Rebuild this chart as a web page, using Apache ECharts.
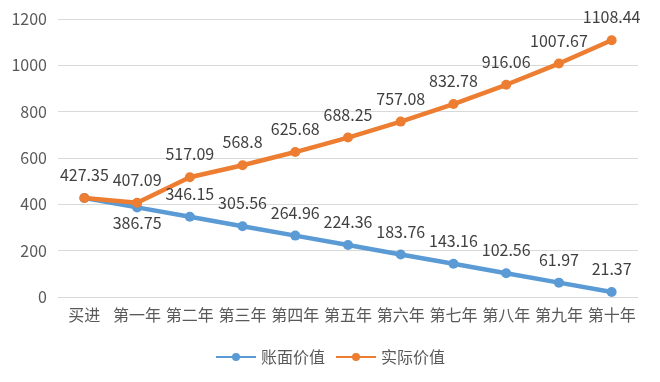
<!DOCTYPE html>
<html><head><meta charset="utf-8">
<script src="https://cdn.jsdelivr.net/npm/echarts@6/dist/echarts.min.js"></script>
<style>html,body{margin:0;padding:0;background:#fff}#c{width:660px;height:382px}</style>
</head><body><div id="c"></div>
<script>
var categories = ['买进','第一年','第二年','第三年','第四年','第五年','第六年','第七年','第八年','第九年','第十年'];
var bookValue = [427.35,386.75,346.15,305.56,264.96,224.36,183.76,143.16,102.56,61.97,21.37];
var actualValue = [427.35,407.09,517.09,568.8,625.68,688.25,757.08,832.78,916.06,1007.67,1108.44];
var yTicks = {min:0, max:1200, interval:200};
var font = '"Noto Sans CJK SC", "Microsoft YaHei", sans-serif';

var bookData = bookValue.map(function(v,i){
  if(i===0) return {value:v, label:{show:false}};
  if(i===1) return {value:v, label:{position:'bottom', distance:3}};
  return v;
});

var chart = echarts.init(document.getElementById('c'));
chart.setOption({
  animation:false,
  textStyle:{fontFamily:font},
  grid:{left:58, right:22, top:19, bottom:85},
  legend:{bottom:12, left:'center', itemWidth:40, itemHeight:10, itemGap:10,
    textStyle:{color:'#595959', fontSize:16, fontFamily:font},
    data:['账面价值','实际价值']},
  xAxis:{type:'category', data:categories, boundaryGap:true,
    axisLine:{show:true, lineStyle:{color:'#d9d9d9'}}, axisTick:{show:false},
    axisLabel:{color:'#595959', fontSize:16, margin:10, fontFamily:font, interval:0}},
  yAxis:{type:'value', min:yTicks.min, max:yTicks.max, interval:yTicks.interval,
    axisLine:{show:false}, axisTick:{show:false},
    splitLine:{lineStyle:{color:'#d9d9d9'}},
    axisLabel:{color:'#595959', fontSize:16, margin:11, fontFamily:font,
      formatter:function(v){return String(v);}}},
  series:[
    {name:'账面价值', type:'line', data:bookData, symbol:'circle', symbolSize:10,
      itemStyle:{color:'#5B9BD5'}, lineStyle:{width:4.5, color:'#5B9BD5'},
      label:{show:true, position:'top', distance:10, color:'#404040', fontSize:16, fontFamily:font}},
    {name:'实际价值', type:'line', data:actualValue, symbol:'circle', symbolSize:10,
      itemStyle:{color:'#ED7D31'}, lineStyle:{width:4.5, color:'#ED7D31'},
      label:{show:true, position:'top', distance:10, color:'#404040', fontSize:16, fontFamily:font}}
  ]
});
</script></body></html>
